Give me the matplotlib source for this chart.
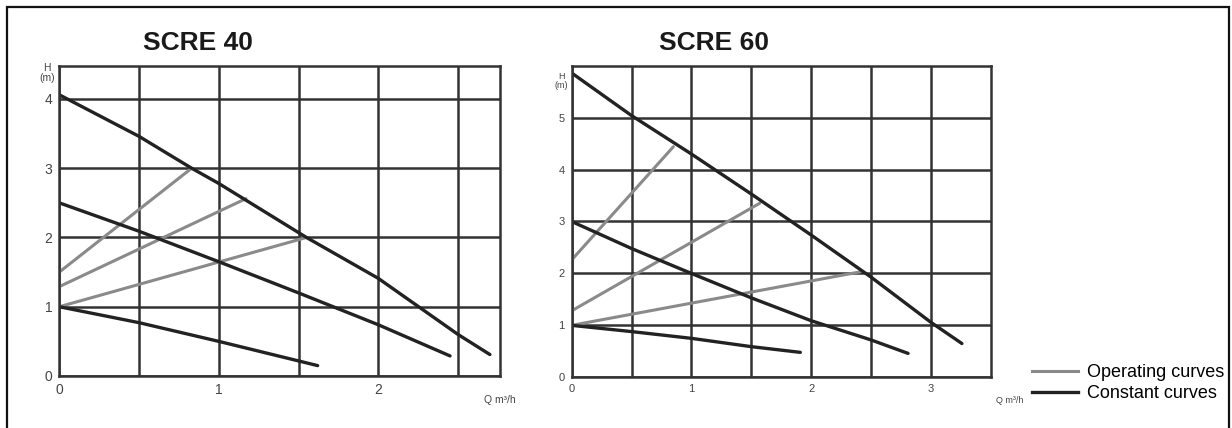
import numpy as np
import matplotlib.pyplot as plt
from matplotlib.patches import Rectangle

plt.rcParams['font.family'] = ['Liberation Sans', 'DejaVu Sans']

# SCRE 40 - curvas (Q en m3/h, H en m)
q40_const_hi = [0, 0.5, 0.83, 1.0, 1.55, 2.0, 2.5, 2.70]
h40_const_hi = [4.06, 3.46, 3.0, 2.78, 2.0, 1.41, 0.6, 0.31]
q40_const_mid = [0, 0.5, 1.0, 1.5, 2.0, 2.45]
h40_const_mid = [2.5, 2.09, 1.65, 1.2, 0.74, 0.29]
q40_const_lo = [0, 0.5, 1.0, 1.62]
h40_const_lo = [1.0, 0.77, 0.5, 0.15]
q40_oper = [[0, 0.83], [0, 1.17], [0, 1.55]]
h40_oper = [[1.5, 3.0], [1.29, 2.56], [1.0, 2.0]]

# SCRE 60
q60_const_hi = [0, 0.5, 1.0, 1.5, 2.0, 2.5, 3.0, 3.26]
h60_const_hi = [5.86, 5.04, 4.3, 3.53, 2.74, 1.93, 1.06, 0.65]
q60_const_mid = [0, 0.5, 1.0, 1.5, 2.0, 2.5, 2.81]
h60_const_mid = [3.0, 2.48, 2.0, 1.53, 1.09, 0.72, 0.46]
q60_const_lo = [0, 0.5, 1.0, 1.5, 1.91]
h60_const_lo = [1.0, 0.88, 0.75, 0.59, 0.48]
q60_oper = [[0, 0.85], [0, 1.57], [0, 2.41]]
h60_oper = [[2.26, 4.44], [1.28, 3.35], [1.0, 2.03]]

GRIS = '#8a8a8a'
NEGRO = '#222222'
REJILLA = '#333333'

fig = plt.figure(figsize=(12.32, 4.28), dpi=100)

# marco exterior
fig.patches.append(Rectangle((7 / 1232, -0.05), 1222 / 1232, 1.05 - 7 / 428,
                             transform=fig.transFigure, fill=False,
                             edgecolor='#111111', linewidth=1.6))


def dibujar(ax, xmax, ymax, xlabels, const, oper, fs):
    ax.set_xlim(0, xmax)
    ax.set_ylim(0, ymax)
    xt = np.arange(0, xmax, 0.5)
    ax.set_xticks(xt)
    ax.set_xticklabels([str(int(v)) if v == int(v) and int(v) in xlabels else '' for v in xt],
                       fontsize=fs, color='#444444')
    yt = np.arange(0, int(np.floor(ymax)) + 1)
    yt = yt[yt < ymax]
    ax.set_yticks(yt)
    ax.set_yticklabels([str(v) for v in yt], fontsize=fs, color='#444444')
    ax.tick_params(length=0, pad=5)
    ax.grid(True, color=REJILLA, linewidth=1.8)
    for s in ax.spines.values():
        s.set_color(REJILLA)
        s.set_linewidth(1.8)
    for q, h in oper:
        ax.plot(q, h, color=GRIS, linewidth=2.2, solid_capstyle='round')
    for q, h in const:
        ax.plot(q, h, color=NEGRO, linewidth=2.4, solid_capstyle='round')


ax1 = fig.add_axes([0.0481, 0.1215, 0.3577, 0.725])
dibujar(ax1, 2.763, 4.48, [0, 1, 2],
        [(q40_const_hi, h40_const_hi), (q40_const_mid, h40_const_mid),
         (q40_const_lo, h40_const_lo)],
        list(zip(q40_oper, h40_oper)), 10)
ax1.text(-0.028, 1.008, 'H\n(m)', transform=ax1.transAxes, ha='center', va='top',
         fontsize=7.5, color='#444444', linespacing=1.0, multialignment='center')
ax1.text(1.0, -0.06, 'Q m³/h', transform=ax1.transAxes, ha='center', va='top',
         fontsize=7.5, color='#444444')

ax2 = fig.add_axes([0.464, 0.1185, 0.3401, 0.728])
dibujar(ax2, 3.5, 6.0, [0, 1, 2, 3],
        [(q60_const_hi, h60_const_hi), (q60_const_mid, h60_const_mid),
         (q60_const_lo, h60_const_lo)],
        list(zip(q60_oper, h60_oper)), 8)
ax2.text(-0.024, 0.98, 'H\n(m)', transform=ax2.transAxes, ha='center', va='top',
         fontsize=6.5, color='#444444', linespacing=1.0, multialignment='center')
ax2.text(1.045, -0.06, 'Q m³/h', transform=ax2.transAxes, ha='center', va='top',
         fontsize=6.5, color='#444444')

# titulos
fig.text(198 / 1232, 1 - 43 / 428, 'SCRE 40', ha='center', va='center',
         fontsize=19, fontweight='bold', color='#1a1a1a')
fig.text(714 / 1232, 1 - 43 / 428, 'SCRE 60', ha='center', va='center',
         fontsize=19, fontweight='bold', color='#1a1a1a')

# leyenda
ax2.plot([], [], color=GRIS, linewidth=2.2, label='Operating curves')
ax2.plot([], [], color=NEGRO, linewidth=2.4, label='Constant curves')
fig.legend(handles=ax2.lines[-2:], loc='lower left',
           bbox_to_anchor=(1032 / 1232, 1 - 402 / 428), frameon=False,
           fontsize=13, handlelength=2.55, handletextpad=0.5, labelspacing=0.2,
           borderpad=0, borderaxespad=0)

fig.savefig('out.png', dpi=100)
